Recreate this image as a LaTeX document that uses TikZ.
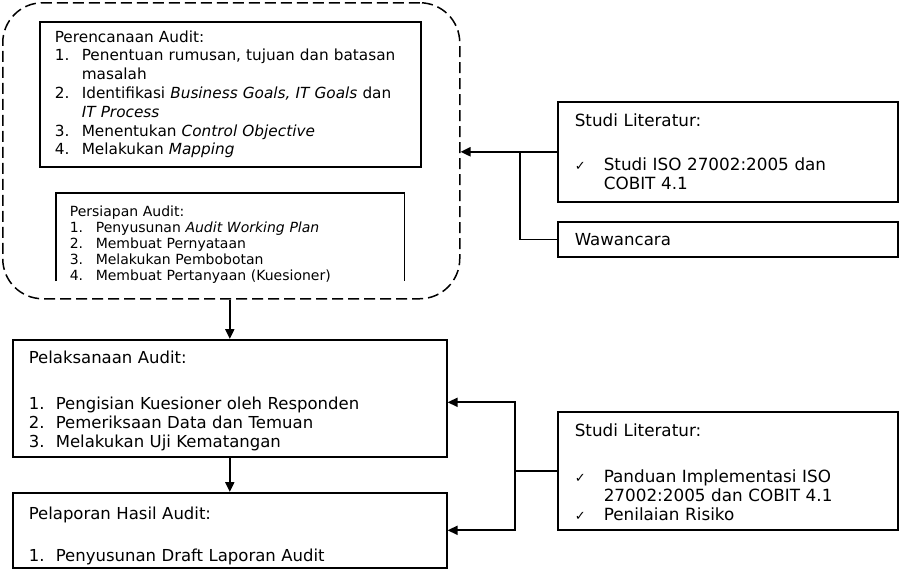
\documentclass[tikz,border=0pt]{standalone}
\usepackage{fontspec}
\setmainfont{DejaVu Sans}
\usetikzlibrary{arrows.meta,positioning}
\newcommand{\numitem}[2][27pt]{\makebox[#1][l]{#2}}
\newcommand{\chk}{\makebox[29pt][l]{\fontsize{13}{19}\selectfont ✓}}
\tikzset{
  phasebox/.style={rectangle, draw, dash pattern=on 11pt off 5pt, line width=1.5pt,
    rounded corners=40pt, anchor=north west, inner sep=0pt},
  auditbox/.style={rectangle, draw, line width=1.6pt, anchor=north west, align=left,
    font=\fontsize{16.5}{19}\selectfont, inner ysep=0pt},
  flowarrow/.style={-{Triangle[length=10pt,width=9pt]}, line width=2pt},
  link/.style={line width=1.6pt}
}
\begin{document}
\begin{tikzpicture}[x=1pt,y=-1pt]
  \useasboundingbox (0,0) rectangle (900,570);
  \node[phasebox, minimum width=457pt, minimum height=296pt] (phase) at (2,2) {};
  \node[auditbox, font=\fontsize{15.3}{18.8}\selectfont, minimum width=381pt, minimum height=145pt,
    text width=351pt, inner xsep=15pt] (plan) at (39,21)
    {Perencanaan Audit:\\
     \numitem{1.}Penentuan rumusan, tujuan dan batasan\\
     \hspace*{27pt}masalah\\
     \numitem{2.}Identifikasi \textit{Business Goals, IT Goals} dan\\
     \hspace*{27pt}\textit{IT Process}\\
     \numitem{3.}Menentukan \textit{Control Objective}\\
     \numitem{4.}Melakukan \textit{Mapping}};
  \node[auditbox, draw=none, font=\fontsize{14}{16}\selectfont, minimum width=347pt, minimum height=101pt,
    text width=321pt, inner xsep=13pt] (prep) at (56,193)
    {Persiapan Audit:\\
     \numitem[26pt]{1.}Penyusunan \textit{Audit Working Plan}\\
     \numitem[26pt]{2.}Membuat Pernyataan\\
     \numitem[26pt]{3.}Melakukan Pembobotan\\
     \numitem[26pt]{4.}Membuat Pertanyaan (Kuesioner)};
  \draw[link] (prep.north west |- 0,281) -- (prep.north west) -- (prep.north east) -- (prep.north east |- 0,281);
  \node[auditbox, minimum width=434pt, minimum height=117pt, text width=402pt, inner xsep=16pt] (exec) at (12,339)
    {\rule{0pt}{18.5pt}Pelaksanaan Audit:\\[27pt]
     \numitem{1.}Pengisian Kuesioner oleh Responden\\
     \numitem{2.}Pemeriksaan Data dan Temuan\\
     \numitem{3.}Melakukan Uji Kematangan};
  \node[auditbox, minimum width=434pt, minimum height=75pt, text width=402pt, inner xsep=16pt] (report) at (12,492)
    {\rule{0pt}{24pt}Pelaporan Hasil Audit:\\[23pt]
     \numitem{1.}Penyusunan Draft Laporan Audit};
  \node[auditbox, font=\fontsize{16.8}{19}\selectfont, minimum width=340pt, minimum height=100pt,
    text width=306pt, inner xsep=17pt] (lit1) at (557,101)
    {Studi Literatur:\\[25pt]
     \chk Studi ISO 27002:2005 dan\\
     \hspace*{29pt}COBIT 4.1};
  \node[auditbox, font=\fontsize{16.6}{19}\selectfont, minimum width=340pt, minimum height=35pt,
    text width=306pt, inner xsep=17pt] (interview) at (557,221)
    {Wawancara};
  \node[auditbox, font=\fontsize{16.8}{19}\selectfont, minimum width=340pt, minimum height=118pt,
    text width=306pt, inner xsep=17pt] (lit2) at (557,411)
    {\rule{0pt}{16pt}Studi Literatur:\\[27pt]
     \chk Panduan Implementasi ISO\\
     \hspace*{29pt}27002:2005 dan COBIT 4.1\\
     \chk Penilaian Risiko};
  \coordinate (j1) at ([xshift=-37pt]lit1.west);
  \coordinate (j2) at ([xshift=-42pt]lit2.west);
  \draw[flowarrow] (lit1.west) -- (lit1.west -| phase.east);
  \draw[link] (interview.west) -| (j1);
  \draw[link] (lit2.west) -- (j2);
  \draw[flowarrow] (j2) |- ([yshift=-4pt]exec.east);
  \draw[flowarrow] (j2) |- (report.east);
  \draw[flowarrow] (exec.north |- phase.south) -- (exec.north);
  \draw[flowarrow] (exec.south) -- (report.north);
\end{tikzpicture}
\end{document}
